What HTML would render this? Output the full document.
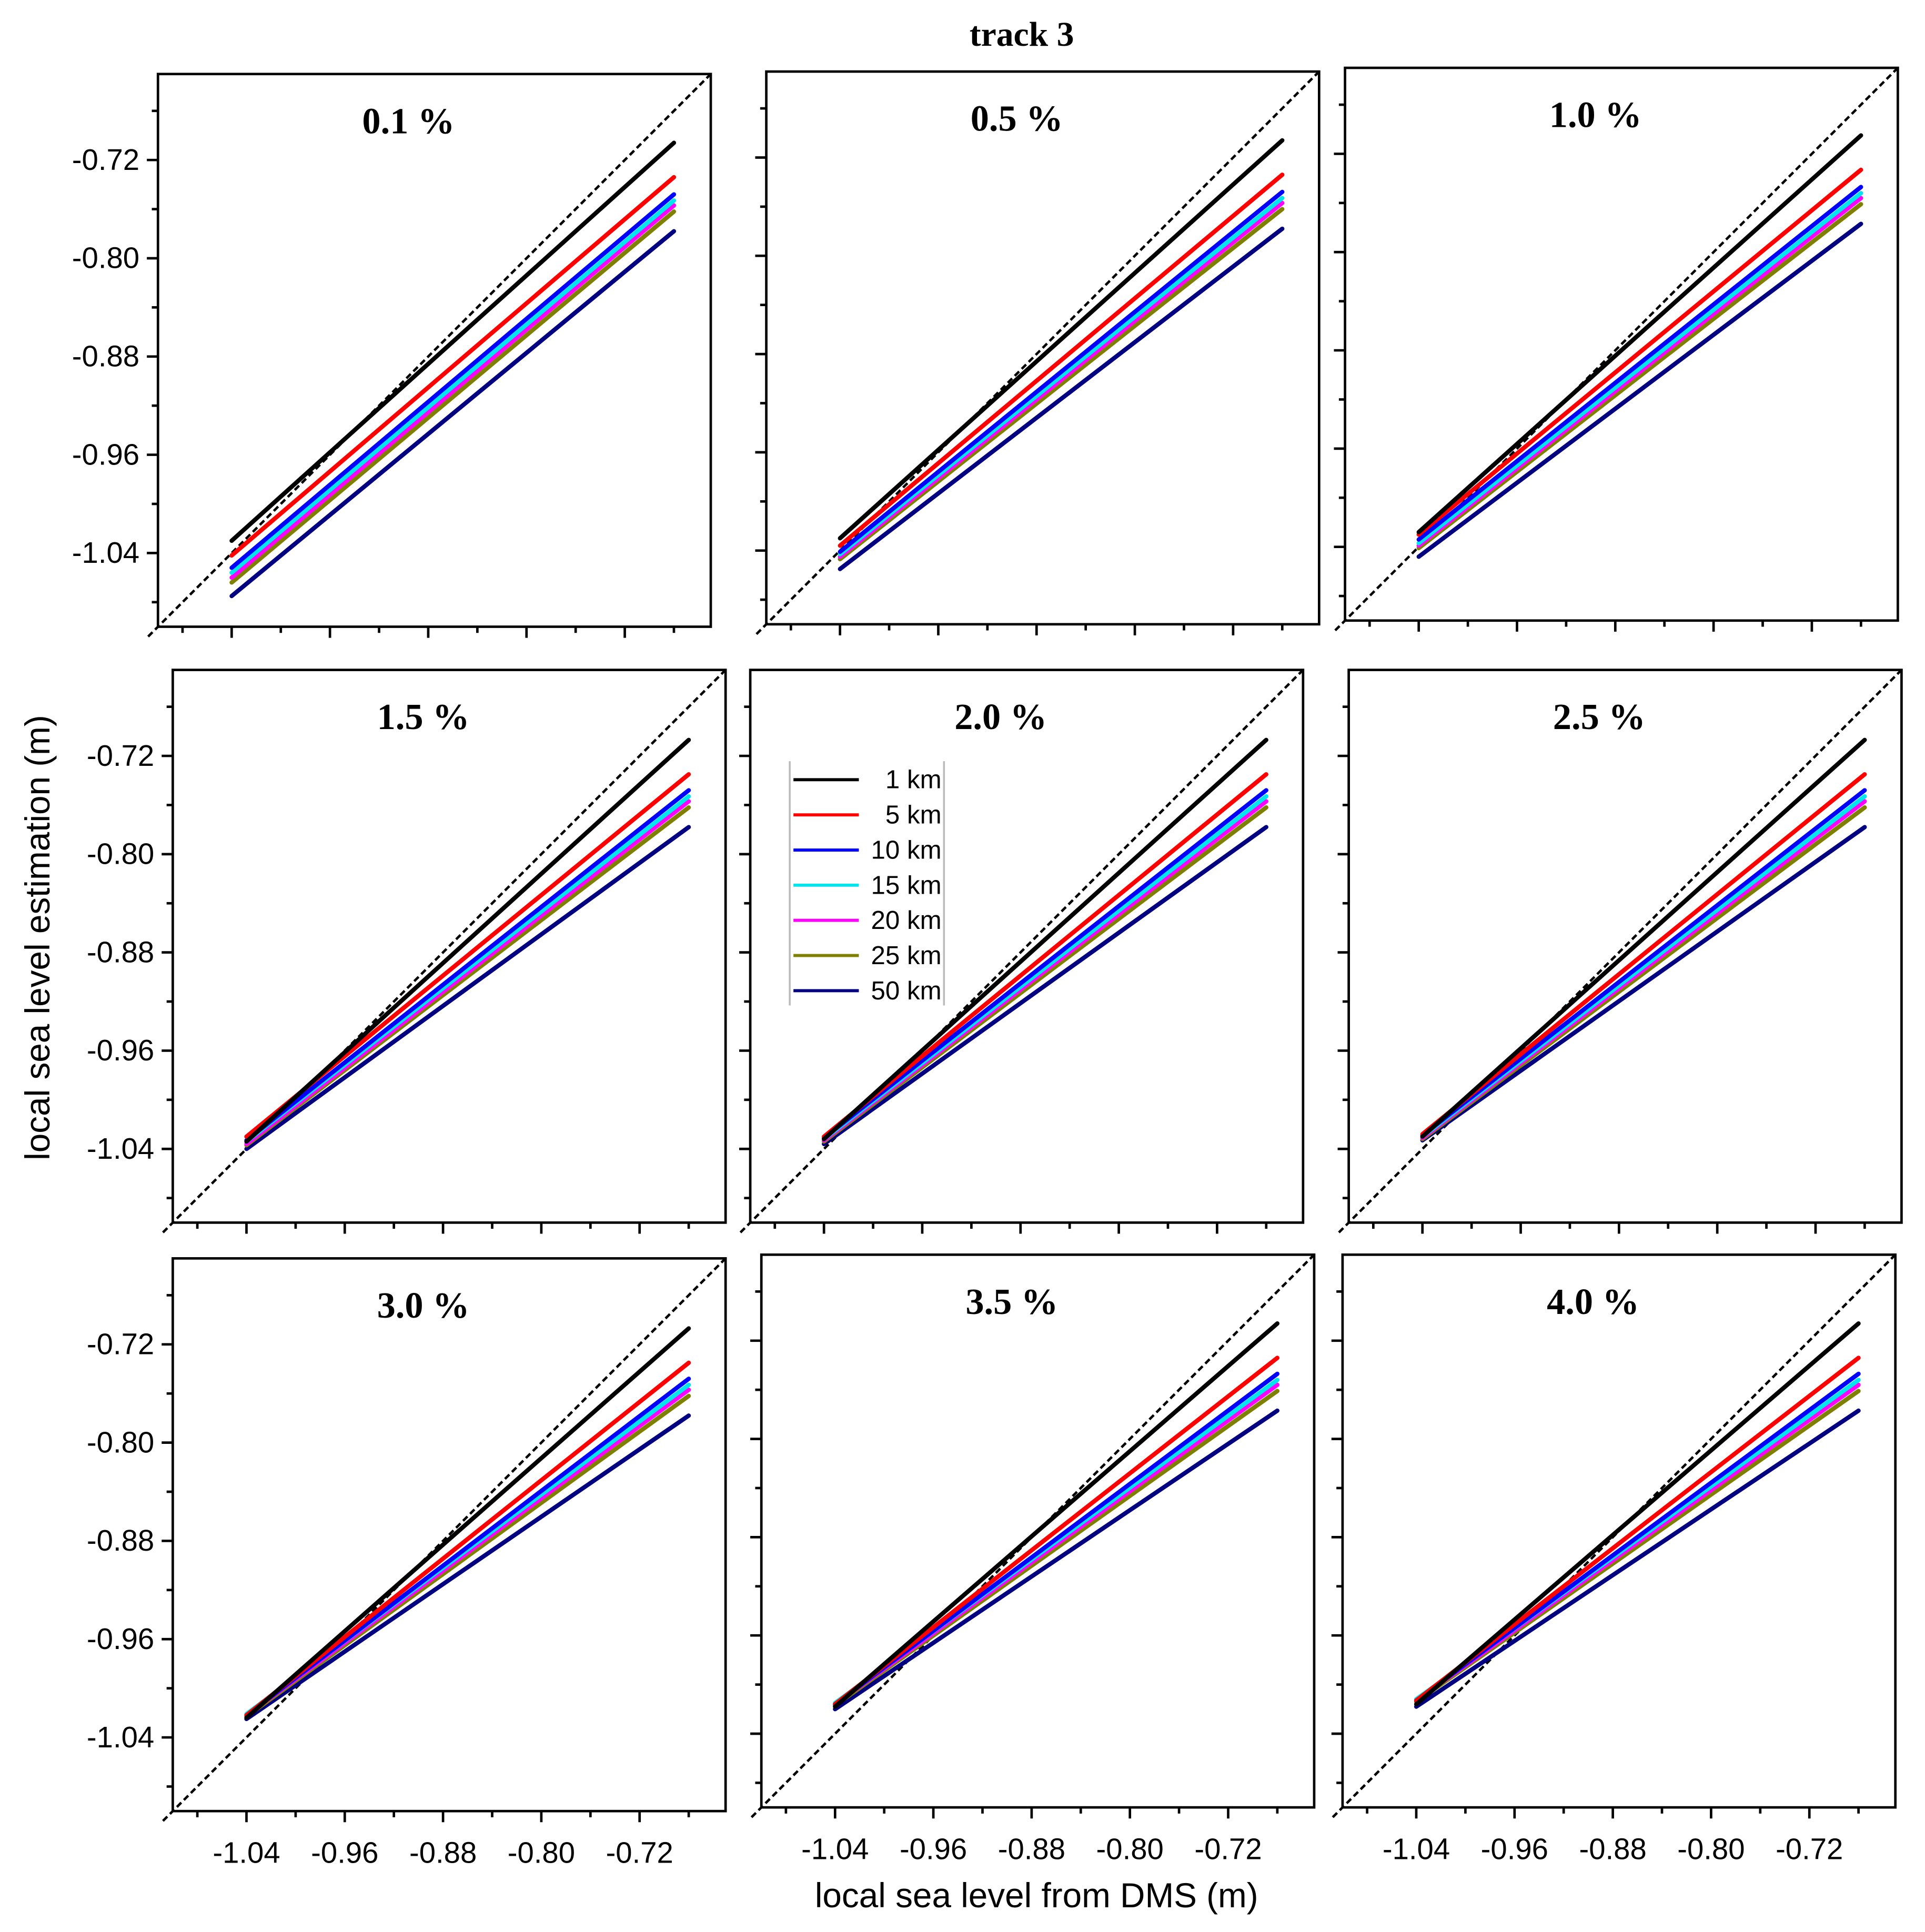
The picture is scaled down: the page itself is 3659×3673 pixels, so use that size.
<!DOCTYPE html>
<html><head><meta charset="utf-8"><style>
html,body{margin:0;padding:0;background:#fff;}
svg{display:block;}
</style></head><body>
<svg id="chart" xmlns="http://www.w3.org/2000/svg" width="3659" height="3673" viewBox="0 0 1560 1566">
<rect x="0" y="0" width="1560" height="1566" fill="#fff"/>
<text x="828" y="37" text-anchor="middle" font-family="Liberation Serif, serif" font-weight="bold" font-size="28">track 3</text>
<text transform="translate(40,760) rotate(-90)" text-anchor="middle" font-family="Liberation Sans, sans-serif" font-size="28">local sea level estimation (m)</text>
<text x="840" y="1546" text-anchor="middle" font-family="Liberation Sans, sans-serif" font-size="28">local sea level from DMS (m)</text>
<g id="panels"></g>
</svg>
<script>
const panelTitles = ["0.1 %","0.5 %","1.0 %","1.5 %","2.0 %","2.5 %","3.0 %","3.5 %","4.0 %"];
const seriesNames = ["1 km","5 km","10 km","15 km","20 km","25 km","50 km"];
const seriesColors = ["#000000","#ff0000","#0000ff","#00e5ee","#ff00ff","#808000","#000080"];
const xStart = -1.04;
const xEnd = -0.68;
const tickValues = [-1.04,-0.96,-0.88,-0.80,-0.72];
const tickLabels = ["-1.04","-0.96","-0.88","-0.80","-0.72"];
const minorValues = [-1.08,-1.00,-0.92,-0.84,-0.76,-0.68];
const startVals = [
 [-1.030,-1.042,-1.052,-1.056,-1.060,-1.064,-1.075],
 [-1.030,-1.036,-1.041,-1.043,-1.045,-1.047,-1.055],
 [-1.028,-1.030,-1.034,-1.037,-1.039,-1.041,-1.048],
 [-1.034,-1.030,-1.033,-1.034,-1.036,-1.037,-1.040],
 [-1.032,-1.030,-1.031,-1.032,-1.033,-1.034,-1.036],
 [-1.030,-1.028,-1.029,-1.030,-1.031,-1.032,-1.033],
 [-1.024,-1.022,-1.022,-1.021,-1.022,-1.023,-1.025],
 [-1.018,-1.016,-1.016,-1.015,-1.016,-1.017,-1.020],
 [-1.016,-1.013,-1.013,-1.012,-1.013,-1.014,-1.018]
];
const endVals = [
 [-0.706,-0.734,-0.748,-0.753,-0.757,-0.762,-0.778],
 [-0.706,-0.734,-0.748,-0.753,-0.757,-0.762,-0.778],
 [-0.705,-0.733,-0.747,-0.752,-0.756,-0.761,-0.777],
 [-0.707,-0.735,-0.748,-0.753,-0.757,-0.762,-0.778],
 [-0.707,-0.735,-0.748,-0.753,-0.757,-0.762,-0.778],
 [-0.707,-0.735,-0.748,-0.753,-0.757,-0.762,-0.778],
 [-0.707,-0.735,-0.748,-0.753,-0.757,-0.762,-0.778],
 [-0.706,-0.734,-0.747,-0.752,-0.756,-0.761,-0.777],
 [-0.706,-0.734,-0.747,-0.752,-0.756,-0.761,-0.777]
];
const boxes = [[128,60],[621,58],[1090,55],[140,543],[608,543],[1093,543],[140,1020],[617,1017],[1088,1017]];
const W = 448, H = 448, vmin = -1.10, vmax = -0.65;
const NS = "http://www.w3.org/2000/svg";
const root = document.getElementById("panels");
function mk(tag, attrs, parent){const e=document.createElementNS(NS,tag);for(const k in attrs)e.setAttribute(k,attrs[k]);parent.appendChild(e);return e;}
boxes.forEach((b,p)=>{
  const bx=b[0], by=b[1];
  const sx=v=>bx+(v-vmin)/(vmax-vmin)*W;
  const sy=v=>by+H-(v-vmin)/(vmax-vmin)*H;
  const g=mk("g",{},root);
  
  
  const r=mk("rect",{x:bx,y:by,width:W,height:H,fill:"#fff",stroke:"#000","stroke-width":2},g);
  
  
  tickValues.forEach((v,i)=>{
    mk("line",{x1:bx-9,x2:bx,y1:sy(v),y2:sy(v),stroke:"#000","stroke-width":2},g);
    mk("line",{x1:sx(v),x2:sx(v),y1:by+H,y2:by+H+9,stroke:"#000","stroke-width":2},g);
    if(p%3===0){const t=mk("text",{x:bx-15,y:sy(v)+8,"text-anchor":"end","font-family":"Liberation Sans, sans-serif","font-size":24},g);t.textContent=tickLabels[i];
      
      }
    if(p>=6){const t=mk("text",{x:sx(v),y:by+H+42,"text-anchor":"middle","font-family":"Liberation Sans, sans-serif","font-size":24},g);t.textContent=tickLabels[i];
      
      }
  });
  minorValues.forEach(v=>{
    mk("line",{x1:bx-5,x2:bx,y1:sy(v),y2:sy(v),stroke:"#000","stroke-width":2},g);
    mk("line",{x1:sx(v),x2:sx(v),y1:by+H,y2:by+H+5,stroke:"#000","stroke-width":2},g);
  });
  const d=mk("line",{x1:sx(-1.108),y1:sy(-1.108),x2:sx(-0.65),y2:sy(-0.65),stroke:"#000","stroke-width":2,"stroke-dasharray":"5,3"},g);
  
  
  for(let s=seriesNames.length-1;s>=0;s--){
    const l=mk("line",{x1:sx(xStart),y1:sy(startVals[p][s]),x2:sx(xEnd),y2:sy(endVals[p][s]),stroke:seriesColors[s],"stroke-width":3.5,"stroke-linecap":"round"},g);
    
    
  }
  const t=mk("text",{x:bx+203,y:by+48,"text-anchor":"middle","font-family":"Liberation Serif, serif","font-weight":"bold","font-size":30},g);
  t.textContent=panelTitles[p];
  
  
});
const lg=mk("g",{},root);


mk("line",{x1:640,x2:640,y1:617,y2:815,stroke:"#bbb","stroke-width":1.5},lg);
mk("line",{x1:765,x2:765,y1:617,y2:815,stroke:"#bbb","stroke-width":1.5},lg);
seriesNames.forEach((n,i)=>{
  const y=632+i*28.5;
  const e=mk("g",{},lg);
  
  
  mk("line",{x1:643,x2:696,y1:y,y2:y,stroke:seriesColors[i],"stroke-width":2.5},e);
  const t=mk("text",{x:763,y:y+7,"text-anchor":"end","font-family":"Liberation Sans, sans-serif","font-size":21},e);
  t.textContent=n;
});
</script>
</body></html>
